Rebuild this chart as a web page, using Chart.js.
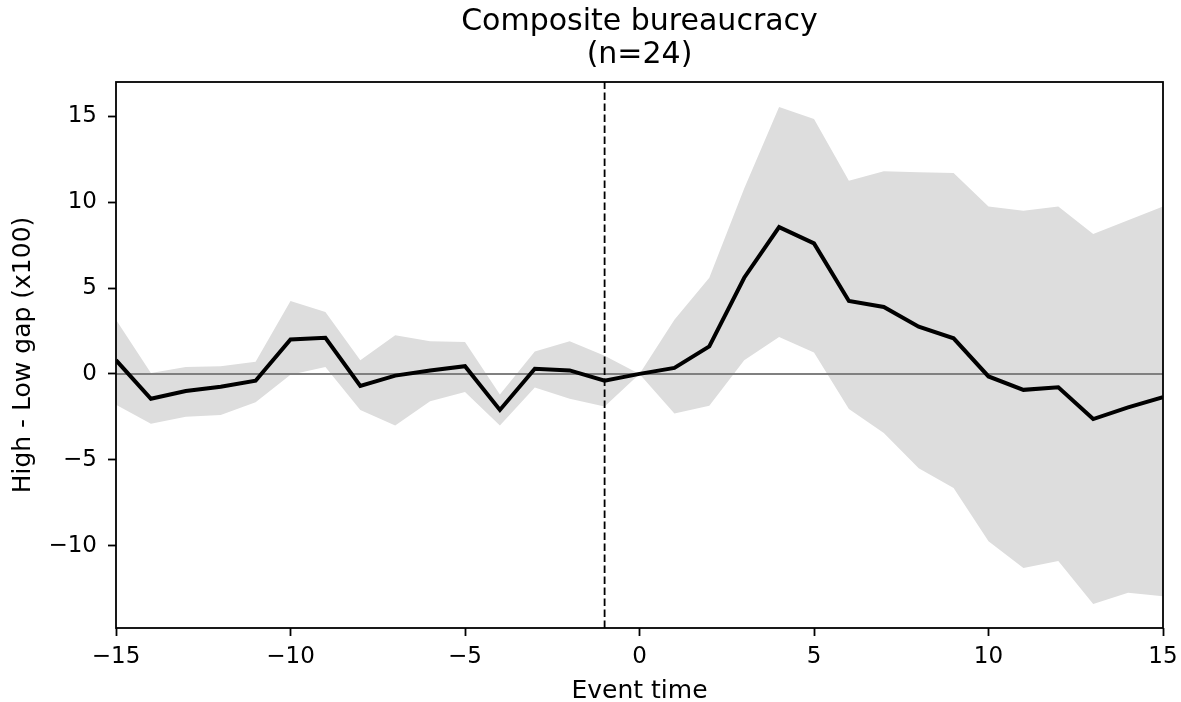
<!DOCTYPE html>
<html>
<head>
<meta charset="utf-8">
<script src="https://cdn.jsdelivr.net/npm/chart.js@4/dist/chart.umd.min.js"></script>
<style>
  html, body { margin: 0; padding: 0; background: #ffffff; }
  #wrap { width: 1181px; height: 702px; position: relative; }
</style>
</head>
<body>
<div id="wrap"><canvas id="chart" width="1181" height="702"></canvas></div>
<script>
// Event-study estimates: high minus low gap (x100) with confidence band
const eventTime = [-15, -14, -13, -12, -11, -10, -9, -8, -7, -6, -5, -4, -3, -2, -1,
                   0, 1, 2, 3, 4, 5, 6, 7, 8, 9, 10, 11, 12, 13, 14, 15];
const meanGap = [0.8, -1.45, -1.0, -0.75, -0.4, 2.0, 2.1, -0.7, -0.1, 0.2, 0.45, -2.1, 0.3, 0.2, -0.4,
                 0.0, 0.35, 1.6, 5.6, 8.55, 7.6, 4.25, 3.9, 2.75, 2.07, -0.15, -0.93, -0.78, -2.63, -1.95, -1.35];
const upperBand = [3.15, 0.05, 0.4, 0.45, 0.7, 4.25, 3.6, 0.8, 2.25, 1.9, 1.85, -1.2, 1.3, 1.9, 1.05,
                   0.0, 3.15, 5.6, 10.8, 15.55, 14.85, 11.25, 11.8, 11.75, 11.7, 9.75, 9.5, 9.75, 8.15, 8.95, 9.75];
const lowerBand = [-1.8, -2.9, -2.5, -2.4, -1.65, -0.05, 0.4, -2.1, -3.0, -1.6, -1.05, -3.0, -0.8, -1.45, -1.9,
                   0.0, -2.3, -1.85, 0.8, 2.15, 1.25, -2.05, -3.45, -5.5, -6.65, -9.75, -11.3, -10.9, -13.4, -12.75, -12.95];

const xTicks = [-15, -10, -5, 0, 5, 10, 15];
const yTicks = [-10, -5, 0, 5, 10, 15];
const xRange = [-15, 15];
const yRange = [-14.8, 17.0];
const referenceX = -1;   // last pre-event period
const zeroY = 0;

const pts = (ys) => eventTime.map((t, i) => ({ x: t, y: ys[i] }));
const fmt = (v) => (v < 0 ? '\u2212' + Math.abs(v) : String(v));
const FONT = 'DejaVu Sans';

// Closed frame around the plotting area
const framePlugin = {
  id: 'frame',
  afterDatasetsDraw(chart) {
    const { ctx, chartArea: a } = chart;
    ctx.save();
    ctx.strokeStyle = '#000000';
    ctx.lineWidth = 1.8;
    ctx.strokeRect(a.left, a.top, a.right - a.left, a.bottom - a.top);
    ctx.restore();
  }
};

new Chart(document.getElementById('chart'), {
  type: 'line',
  data: {
    datasets: [
      {
        label: 'upper',
        data: pts(upperBand),
        borderWidth: 0,
        borderColor: 'rgba(0,0,0,0)',
        backgroundColor: '#dddddd',
        pointRadius: 0,
        fill: '+1',
        tension: 0,
        order: 5
      },
      {
        label: 'lower',
        data: pts(lowerBand),
        borderWidth: 0,
        borderColor: 'rgba(0,0,0,0)',
        pointRadius: 0,
        fill: false,
        tension: 0,
        order: 4
      },
      {
        label: 'zero',
        data: [{ x: xRange[0], y: zeroY }, { x: xRange[1], y: zeroY }],
        borderColor: '#808080',
        borderWidth: 2,
        pointRadius: 0,
        fill: false,
        order: 3
      },
      {
        label: 'mean',
        data: pts(meanGap),
        borderColor: '#000000',
        borderWidth: 4,
        pointRadius: 0,
        fill: false,
        tension: 0,
        borderJoinStyle: 'miter',
        order: 2
      },
      {
        label: 'reference',
        data: [{ x: referenceX, y: yRange[0] }, { x: referenceX, y: yRange[1] }],
        borderColor: '#000000',
        borderWidth: 1.8,
        borderDash: [7.5, 3.5],
        pointRadius: 0,
        fill: false,
        order: 1
      }
    ]
  },
  options: {
    responsive: false,
    animation: false,
    events: [],
    layout: { padding: { left: 0, right: 18, top: 0, bottom: 0 } },
    plugins: {
      legend: { display: false },
      tooltip: { enabled: false },
      title: {
        display: true,
        fullSize: false,
        text: ['Composite bureaucracy', '(n=24)'],
        color: '#000000',
        font: { family: FONT, size: 30, weight: 'normal', lineHeight: 1.1 },
        padding: { top: 5.5, bottom: 10.5 }
      }
    },
    scales: {
      x: {
        type: 'linear',
        min: xRange[0],
        max: xRange[1],
        afterBuildTicks: (s) => { s.ticks = xTicks.map(v => ({ value: v })); },
        afterFit: (s) => { s.height = 74; s.paddingLeft = 0; s.paddingRight = 0; },
        ticks: {
          callback: fmt,
          color: '#000000',
          font: { family: FONT, size: 23 },
          padding: 7,
          maxRotation: 0,
          autoSkip: false
        },
        grid: {
          drawOnChartArea: false,
          drawTicks: true,
          tickLength: 8,
          tickWidth: 1.8,
          tickColor: '#000000'
        },
        border: { display: false },
        title: {
          display: true,
          text: 'Event time',
          color: '#000000',
          font: { family: FONT, size: 25, lineHeight: 0.85 },
          padding: { top: 0, bottom: 0 }
        }
      },
      y: {
        type: 'linear',
        min: yRange[0],
        max: yRange[1],
        afterBuildTicks: (s) => { s.ticks = yTicks.map(v => ({ value: v })); },
        afterFit: (s) => { s.width = 116; s.paddingTop = 0; s.paddingBottom = 0; },
        ticks: {
          callback: fmt,
          color: '#000000',
          font: { family: FONT, size: 23 },
          padding: 11,
          autoSkip: false
        },
        grid: {
          drawOnChartArea: false,
          drawTicks: true,
          tickLength: 8,
          tickWidth: 1.8,
          tickColor: '#000000'
        },
        border: { display: false },
        title: {
          display: true,
          text: 'High - Low gap (x100)',
          color: '#000000',
          font: { family: FONT, size: 25, lineHeight: 1 },
          padding: { top: 11, bottom: 0 }
        }
      }
    }
  },
  plugins: [framePlugin]
});
</script>
</body>
</html>
